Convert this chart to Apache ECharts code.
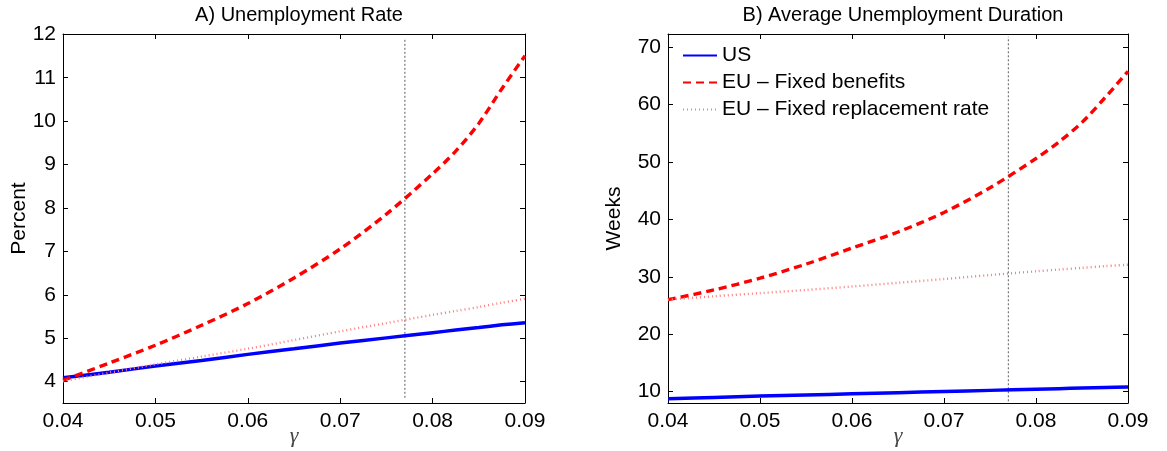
<!DOCTYPE html>
<html>
<head>
<meta charset="utf-8">
<script src="https://cdn.jsdelivr.net/npm/echarts@6/dist/echarts.min.js"></script>
<style>
  html, body { margin: 0; padding: 0; background: #fff; }
  #chart { width: 1167px; height: 451px; }
</style>
</head>
<body>
<div id="chart"></div>
<script>
// gamma grid
var gamma = [0.04, 0.045, 0.05, 0.055, 0.06, 0.065, 0.07, 0.075, 0.08, 0.0825, 0.085, 0.0875, 0.09];

// A) unemployment rate, percent
var rateUS      = [4.08, 4.21, 4.35, 4.48, 4.62, 4.75, 4.88, 5.00, 5.12, 5.18, 5.24, 5.30, 5.35];
var rateEUfixB  = [4.02, 4.42, 4.83, 5.29, 5.79, 6.38, 7.05, 7.85, 8.78, 9.30, 9.94, 10.74, 11.5];
var rateEUfixR  = [4.00, 4.20, 4.39, 4.57, 4.75, 4.95, 5.15, 5.34, 5.53, 5.62, 5.71, 5.81, 5.90];

// B) average unemployment duration, weeks
var durUS       = [8.75, 8.98, 9.2, 9.4, 9.6, 9.8, 10.0, 10.2, 10.4, 10.5, 10.6, 10.7, 10.8];
var durEUfixB   = [26.0, 27.7, 29.75, 32.2, 35.0, 37.8, 41.2, 45.5, 50.6, 53.5, 56.9, 61.2, 65.8];
var durEUfixR   = [26.0, 26.6, 27.15, 27.7, 28.3, 28.95, 29.6, 30.3, 30.95, 31.25, 31.55, 31.85, 32.1];

// calibrated gamma (vertical dotted line) and its span on each panel
var gammaRef = 0.077;
var refSpanA = [3.62, 11.9];
var refSpanB = [8.3, 71.8];

var names = ['US', 'EU \u2013 Fixed benefits', 'EU \u2013 Fixed replacement rate'];

function pairs(ys) {
    var out = [];
    for (var i = 0; i < gamma.length; i++) out.push([gamma[i], ys[i]]);
    return out;
}

var FONT = 'Liberation Sans, Arial, Helvetica, sans-serif';
var axisTxt = { fontSize: 21, color: '#000', fontFamily: FONT };

function xAxisPair(gi) {
    return [
        { gridIndex: gi, type: 'value', min: 0.04, max: 0.09, interval: 0.01, position: 'bottom',
          axisLine: { lineStyle: { color: '#000', width: 1 } },
          axisTick: { inside: true, length: 5, lineStyle: { color: '#000' } },
          axisLabel: Object.assign({ margin: 8, formatter: function (v) { return v.toFixed(2); } }, axisTxt),
          splitLine: { show: false },
          name: '\u03b3', nameLocation: 'middle', nameGap: 22, nameMoveOverlap: false,
          nameTextStyle: { fontSize: 22, fontStyle: 'italic', fontFamily: 'Liberation Serif, Times New Roman, serif', color: '#444' } },
        { gridIndex: gi, type: 'value', min: 0.04, max: 0.09, interval: 0.01, position: 'top',
          axisLine: { lineStyle: { color: '#000', width: 1 } },
          axisTick: { inside: true, length: 5, lineStyle: { color: '#000' } },
          axisLabel: { show: false }, splitLine: { show: false } }
    ];
}

function hiddenX(gi) {
    return { gridIndex: gi, type: 'value', min: 0.04, max: 0.09, show: false };
}

var option = {
    animation: false,
    backgroundColor: '#fff',
    title: [
        { text: 'A) Unemployment Rate', left: 294, top: 0, textAlign: 'center',
          textStyle: { fontSize: 20, fontWeight: 'normal', color: '#000', fontFamily: FONT } },
        { text: 'B) Average Unemployment Duration', left: 898, top: 0, textAlign: 'center',
          textStyle: { fontSize: 20, fontWeight: 'normal', color: '#000', fontFamily: FONT } }
    ],
    legend: {
        data: names, orient: 'vertical', left: 677, top: 40, itemWidth: 34, itemHeight: 14, itemGap: 6,
        itemStyle: { color: 'rgba(0,0,0,0)', borderColor: 'rgba(0,0,0,0)', borderWidth: 0 },
        textStyle: { fontSize: 21, color: '#000', fontFamily: FONT }
    },
    grid: [
        { left: 63, top: 34, width: 462, height: 369, outerBoundsMode: 'none' },       // A frame + data
        { left: 63, top: 34.3, width: 462, height: 347.4, outerBoundsMode: 'none' },   // A tick labels 4..12
        { left: 668, top: 34, width: 460, height: 369, outerBoundsMode: 'none' },      // B frame + data
        { left: 668, top: 47.3, width: 460, height: 344.4, outerBoundsMode: 'none' }   // B tick labels 10..70
    ],
    xAxis: [].concat(xAxisPair(0), [hiddenX(1)], xAxisPair(2), [hiddenX(3)]),
    yAxis: [
        // 0: A data axis
        { gridIndex: 0, type: 'value', min: 3.5, max: 12, position: 'left',
          axisLine: { show: true, lineStyle: { color: '#000' } }, axisTick: { show: false },
          axisLabel: { show: false }, splitLine: { show: false },
          name: 'Percent', nameLocation: 'middle', nameGap: 33, nameMoveOverlap: false,
          nameTextStyle: { fontSize: 21, color: '#000', fontFamily: FONT } },
        // 1: A right frame
        { gridIndex: 0, type: 'value', min: 3.5, max: 12, position: 'right',
          axisLine: { show: true, lineStyle: { color: '#000' } }, axisTick: { show: false },
          axisLabel: { show: false }, splitLine: { show: false } },
        // 2: A labels
        { gridIndex: 1, type: 'value', min: 4, max: 12, interval: 1, position: 'left',
          axisLine: { show: false }, axisTick: { inside: true, length: 5, lineStyle: { color: '#000' } },
          axisLabel: Object.assign({ margin: 7 }, axisTxt), splitLine: { show: false } },
        // 3: A right ticks
        { gridIndex: 1, type: 'value', min: 4, max: 12, interval: 1, position: 'right',
          axisLine: { show: false }, axisTick: { inside: true, length: 5, lineStyle: { color: '#000' } },
          axisLabel: { show: false }, splitLine: { show: false } },
        // 4: B data axis
        { gridIndex: 2, type: 'value', min: 8, max: 72.3, position: 'left',
          axisLine: { show: true, lineStyle: { color: '#000' } }, axisTick: { show: false },
          axisLabel: { show: false }, splitLine: { show: false },
          name: 'Weeks', nameLocation: 'middle', nameGap: 43, nameMoveOverlap: false,
          nameTextStyle: { fontSize: 21, color: '#000', fontFamily: FONT } },
        // 5: B right frame
        { gridIndex: 2, type: 'value', min: 8, max: 72.3, position: 'right',
          axisLine: { show: true, lineStyle: { color: '#000' } }, axisTick: { show: false },
          axisLabel: { show: false }, splitLine: { show: false } },
        // 6: B labels
        { gridIndex: 3, type: 'value', min: 10, max: 70, interval: 10, position: 'left',
          axisLine: { show: false }, axisTick: { inside: true, length: 5, lineStyle: { color: '#000' } },
          axisLabel: Object.assign({ margin: 7 }, axisTxt), splitLine: { show: false } },
        // 7: B right ticks
        { gridIndex: 3, type: 'value', min: 10, max: 70, interval: 10, position: 'right',
          axisLine: { show: false }, axisTick: { inside: true, length: 5, lineStyle: { color: '#000' } },
          axisLabel: { show: false }, splitLine: { show: false } }
    ],
    series: []
};

var styles = [
    { color: '#0000ff', width: 3.5, type: 'solid' },
    { color: '#ff0000', width: 3.4, type: [8, 5] },
    { color: '#ff7a7a', width: 2.4, type: [1, 3] }
];

function addPanel(xi, yi, data, span) {
    // reference line first so curves sit on top
    option.series.push({
        type: 'line', xAxisIndex: xi, yAxisIndex: yi, symbol: 'none', silent: true,
        data: [[gammaRef, span[0]], [gammaRef, span[1]]],
        lineStyle: { color: '#777', width: 1.2, type: [2, 2] }
    });
    for (var k = 0; k < data.length; k++) {
        option.series.push({
            name: names[k], type: 'line', xAxisIndex: xi, yAxisIndex: yi, symbol: 'none',
            data: pairs(data[k]), smooth: 0.3,
            lineStyle: styles[k], itemStyle: { color: styles[k].color }
        });
    }
}

addPanel(0, 0, [rateUS, rateEUfixB, rateEUfixR], refSpanA);
addPanel(3, 4, [durUS, durEUfixB, durEUfixR], refSpanB);

var myChart = echarts.init(document.getElementById('chart'));
myChart.setOption(option);
</script>
</body>
</html>
